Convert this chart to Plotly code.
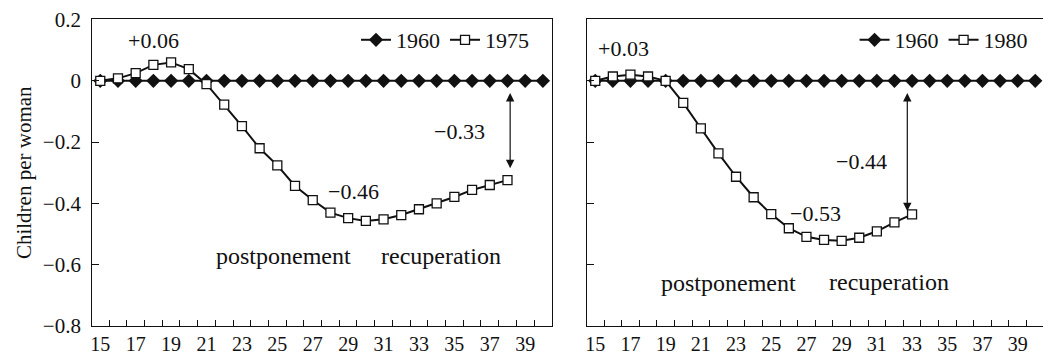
import plotly.graph_objects as go

# ---------------- data ----------------
ages = [15, 16, 17, 18, 19, 20, 21, 22, 23, 24, 25, 26, 27, 28, 29, 30,
        31, 32, 33, 34, 35, 36, 37, 38, 39, 40]
cohort_1960 = [0, 0, 0, 0, 0, 0, 0, 0, 0, 0, 0, 0, 0, 0, 0, 0,
               0, 0, 0, 0, 0, 0, 0, 0, 0, 0]
ages_1975 = [15, 16, 17, 18, 19, 20, 21, 22, 23, 24, 25, 26, 27, 28, 29, 30,
             31, 32, 33, 34, 35, 36, 37, 38]
cohort_1975 = [0.0, 0.008, 0.025, 0.052, 0.06, 0.038, -0.011, -0.078, -0.148,
               -0.22, -0.276, -0.343, -0.389, -0.43, -0.448, -0.457, -0.452,
               -0.438, -0.419, -0.40, -0.379, -0.356, -0.34, -0.324]
ages_1980 = [15, 16, 17, 18, 19, 20, 21, 22, 23, 24, 25, 26, 27, 28, 29, 30,
             31, 32, 33]
cohort_1980 = [0.0, 0.014, 0.02, 0.014, 0.0, -0.072, -0.155, -0.237, -0.313,
               -0.38, -0.435, -0.481, -0.509, -0.519, -0.522, -0.512, -0.491,
               -0.462, -0.436]
x_tick_labels = ["15", "17", "19", "21", "23", "25", "27", "29", "31", "33",
                 "35", "37", "39"]
y_tick_vals = [0.2, 0, -0.2, -0.4, -0.6, -0.8]
y_tick_text = ["0.2", "0", "\u22120.2", "\u22120.4", "\u22120.6", "\u22120.8"]

FONT = "Liberation Serif, Times New Roman, serif"
BLACK = "#111111"

fig = go.Figure()


def add_pair(xa, ya, legend, yrs2, vals2, name2):
    fig.add_trace(go.Scatter(
        x=ages, y=cohort_1960, name="1960", mode="lines+markers",
        line=dict(color=BLACK, width=2),
        marker=dict(symbol="diamond", size=11, color=BLACK),
        xaxis=xa, yaxis=ya, legend=legend))
    fig.add_trace(go.Scatter(
        x=yrs2, y=vals2, name=name2, mode="lines+markers",
        line=dict(color=BLACK, width=2),
        marker=dict(symbol="square", size=9, color="white",
                    line=dict(color=BLACK, width=1.3)),
        xaxis=xa, yaxis=ya, legend=legend))


add_pair("x", "y", "legend", ages_1975, cohort_1975, "1975")
add_pair("x2", "y2", "legend2", ages_1980, cohort_1980, "1980")

odd_ages = [a for a in ages if a % 2 == 1]
half_ticks = [a + 0.5 for a in ages[:-1]]

xcommon = dict(
    tickmode="array", tickvals=odd_ages, ticktext=x_tick_labels,
    ticks="", showgrid=False, zeroline=False, automargin=False,
    showline=True, mirror=True, linecolor=BLACK, linewidth=1.3,
    tickfont=dict(family=FONT, size=20, color=BLACK),
    minor=dict(tickmode="array", tickvals=half_ticks, ticks="inside",
               ticklen=6, tickwidth=1, tickcolor=BLACK, showgrid=False),
    ticklabelstandoff=0,
)
ycommon = dict(
    range=[-0.8, 0.2], tickmode="array", tickvals=y_tick_vals,
    ticktext=y_tick_text, ticks="inside", ticklen=7, tickwidth=1,
    tickcolor=BLACK, showgrid=False, zeroline=False, automargin=False,
    showline=True, linecolor=BLACK, linewidth=1.3,
    tickfont=dict(family=FONT, size=21, color=BLACK),
    domain=[0.0868, 0.9454],
)

fig.update_layout(
    width=1043, height=357,
    margin=dict(l=0, r=0, t=0, b=0, autoexpand=False),
    paper_bgcolor="white", plot_bgcolor="white",
    font=dict(family=FONT, size=21, color=BLACK),
    xaxis=dict(xcommon, domain=[0.0885, 0.5290], range=[14.55, 40.5],
               anchor="y"),
    yaxis=dict(ycommon, anchor="x", mirror=True, ticklabelstandoff=6,
               title=dict(text="Children per woman",
                          font=dict(family=FONT, size=21, color=BLACK),
                          standoff=5)),
    xaxis2=dict(xcommon, domain=[0.5631, 1.0], range=[14.55, 40.44],
                anchor="y2"),
    yaxis2=dict(ycommon, anchor="x2", mirror=False, showticklabels=False),
    legend=dict(orientation="h", x=0.512, xanchor="right", y=0.888,
                yanchor="middle", bgcolor="rgba(0,0,0,0)",
                font=dict(family=FONT, size=22, color=BLACK),
                itemwidth=30, tracegroupgap=0),
    legend2=dict(orientation="h", x=0.99, xanchor="right", y=0.888,
                 yanchor="middle", bgcolor="rgba(0,0,0,0)",
                 font=dict(family=FONT, size=22, color=BLACK),
                 itemwidth=30, tracegroupgap=0),
    showlegend=True,
)

num_font = dict(family=FONT, size=22, color=BLACK)
word_font = dict(family=FONT, size=24, color=BLACK)
texts = [
    ("x", "y", 18.0, 0.131, "+0.06", num_font),
    ("x", "y", 35.27, -0.165, "\u22120.33", num_font),
    ("x", "y", 29.3, -0.361, "\u22120.46", num_font),
    ("x", "y", 25.35, -0.571, "postponement", word_font),
    ("x", "y", 34.25, -0.571, "recuperation", word_font),
    ("x2", "y2", 16.62, 0.107, "+0.03", num_font),
    ("x2", "y2", 30.12, -0.263, "\u22120.44", num_font),
    ("x2", "y2", 27.53, -0.432, "\u22120.53", num_font),
    ("x2", "y2", 22.59, -0.66, "postponement", word_font),
    ("x2", "y2", 31.68, -0.655, "recuperation", word_font),
]
for xr, yr, xv, yv, t, f in texts:
    fig.add_annotation(x=xv, y=yv, xref=xr, yref=yr, text=t,
                       showarrow=False, font=f)

arrows = [
    ("x", "y", 38.15, -0.035, -0.285),
    ("x2", "y2", 32.73, -0.035, -0.425),
]
for xr, yr, xv, ytop, ybot in arrows:
    fig.add_annotation(x=xv, y=ybot, ax=xv, ay=ytop, xref=xr, yref=yr,
                       axref=xr, ayref=yr, text="", showarrow=True,
                       arrowhead=2, startarrowhead=2, arrowside="end+start",
                       arrowsize=1.4, startarrowsize=1.4, arrowwidth=1.2,
                       arrowcolor=BLACK, standoff=0, startstandoff=0)

fig.write_html("out.html")
